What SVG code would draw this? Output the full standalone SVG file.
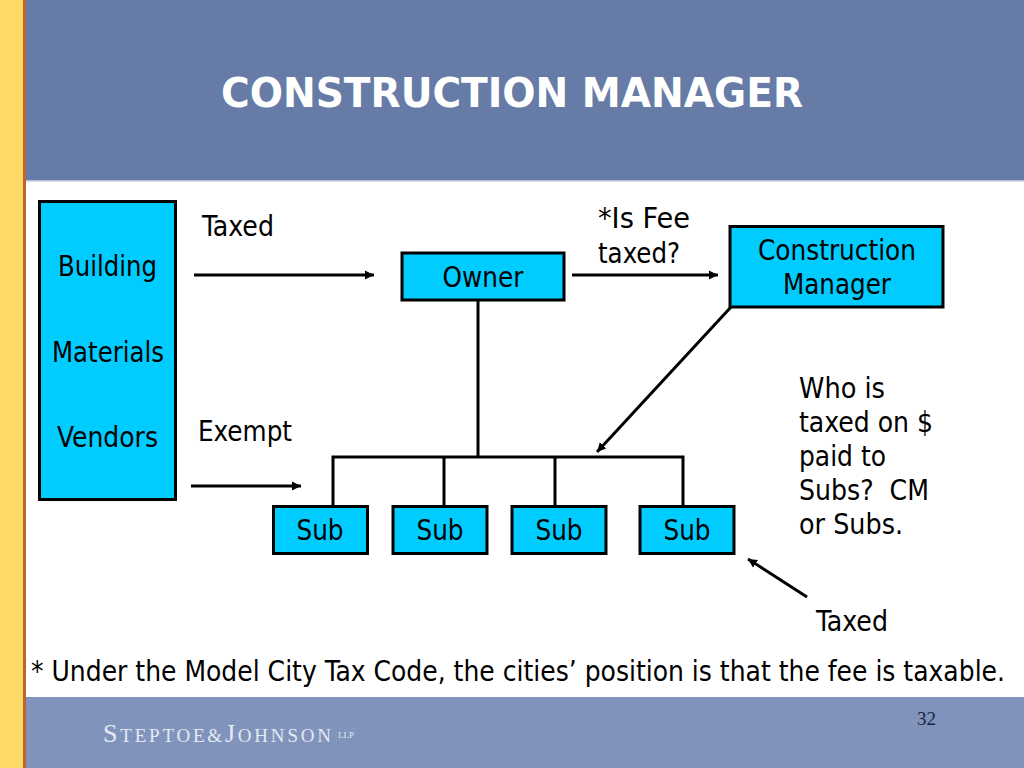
<svg xmlns="http://www.w3.org/2000/svg" width="1024" height="768" viewBox="0 0 1024 768">
<defs>
<marker id="ah" markerUnits="userSpaceOnUse" markerWidth="12" markerHeight="12" refX="9" refY="5" orient="auto"><path d="M0 0.500L9 5L0 9.500Z" fill="#000"/></marker>
<pattern id="weave" width="4" height="4" patternUnits="userSpaceOnUse"><rect width="4" height="4" fill="#7f92bb"/><path d="M0 0H4M0 0V4" stroke="#8799c0" stroke-width="1"/></pattern>
</defs>
<style>
text{font-family:"DejaVu Sans","Liberation Sans",sans-serif;font-stretch:condensed;font-size:27.500px;fill:#000}
.m{text-anchor:middle}
.b{fill:#00ccff;stroke:#000;stroke-width:3}
.c{fill:none;stroke:#000;stroke-width:3}
.a{marker-end:url(#ah)}
.s{font-family:"Liberation Serif",serif;font-stretch:normal}
</style>
<rect width="1024" height="768" fill="#fff"/>
<g id="background">
<rect x="0" y="0" width="24" height="768" fill="#ffd966"/>
<rect x="23" y="0" width="3" height="768" fill="#c0642c"/>
<rect x="26" y="0" width="998" height="180" fill="#667ca6"/>
<rect x="26" y="180" width="998" height="1.500" fill="#b5c0d4"/>
<rect x="26" y="697" width="998" height="71" fill="url(#weave)"/>
</g>
<text id="title" x="221" y="107" style="font-weight:bold;font-size:41px;fill:#fff" textLength="582" lengthAdjust="spacingAndGlyphs">CONSTRUCTION MANAGER</text>
<g id="connectors">
<path class="c a" d="M194 275H374"/>
<path class="c a" d="M572 275H718"/>
<path class="c a" d="M191 486H301"/>
<path class="c a" d="M731 307L597 452"/>
<path class="c a" d="M807 597L748 559"/>
<path class="c" d="M478 301V457M333 507V457H683V507M444 457V507M555 457V507"/>
</g>
<g id="vendors"><rect class="b" x="39.500" y="201.500" width="136" height="298"/>
<text x="58" y="276" textLength="99" lengthAdjust="spacingAndGlyphs">Building</text><text x="52" y="362" textLength="112" lengthAdjust="spacingAndGlyphs">Materials</text><text x="57" y="447" textLength="101" lengthAdjust="spacingAndGlyphs">Vendors</text></g>
<g id="owner"><rect class="b" x="402" y="253" width="162" height="47"/><text class="m" x="483" y="287">Owner</text></g>
<g id="cm"><rect class="b" x="730" y="226.500" width="213" height="80.500"/><text x="758" y="260" textLength="158" lengthAdjust="spacingAndGlyphs">Construction</text><text x="783" y="294" textLength="108" lengthAdjust="spacingAndGlyphs">Manager</text></g>
<g id="sub1"><rect class="b" x="273.500" y="506.500" width="94" height="47"/><text class="m" x="320" y="540">Sub</text></g>
<g id="sub2"><rect class="b" x="393" y="506.500" width="94" height="47"/><text class="m" x="440" y="540">Sub</text></g>
<g id="sub3"><rect class="b" x="512" y="506.500" width="94" height="47"/><text class="m" x="559" y="540">Sub</text></g>
<g id="sub4"><rect class="b" x="640" y="506.500" width="94" height="47"/><text class="m" x="687" y="540">Sub</text></g>
<g id="labels">
<text x="202" y="236" textLength="72" lengthAdjust="spacingAndGlyphs">Taxed</text>
<text x="598" y="228" textLength="92" lengthAdjust="spacingAndGlyphs">*Is Fee</text>
<text x="598" y="263" textLength="82" lengthAdjust="spacingAndGlyphs">taxed?</text>
<text x="198" y="441" textLength="94" lengthAdjust="spacingAndGlyphs">Exempt</text>
<text x="799" y="398" textLength="86" lengthAdjust="spacingAndGlyphs">Who is</text>
<text x="799" y="432" textLength="134" lengthAdjust="spacingAndGlyphs">taxed on $</text>
<text x="799" y="466" textLength="87" lengthAdjust="spacingAndGlyphs">paid to</text>
<text x="799" y="500" textLength="130" lengthAdjust="spacingAndGlyphs" xml:space="preserve">Subs?  CM</text>
<text x="799" y="534" textLength="104" lengthAdjust="spacingAndGlyphs">or Subs.</text>
<text x="816" y="631" textLength="72" lengthAdjust="spacingAndGlyphs">Taxed</text>
<text x="31" y="681" textLength="974" lengthAdjust="spacingAndGlyphs">* Under the Model City Tax Code, the cities’ position is that the fee is taxable.</text>
</g>
<text class="s" x="917" y="725" style="font-size:19px;fill:#1a2440">32</text>
<text id="logo" class="s" x="103" y="742" style="font-size:19px;fill:#e4e9f2" textLength="228"><tspan style="font-size:26px">S</tspan>TEPTOE&amp;<tspan style="font-size:26px">J</tspan>OHNSON</text>
<text class="s" x="338" y="738" style="font-size:9px;fill:#e4e9f2">LLP</text>
</svg>
